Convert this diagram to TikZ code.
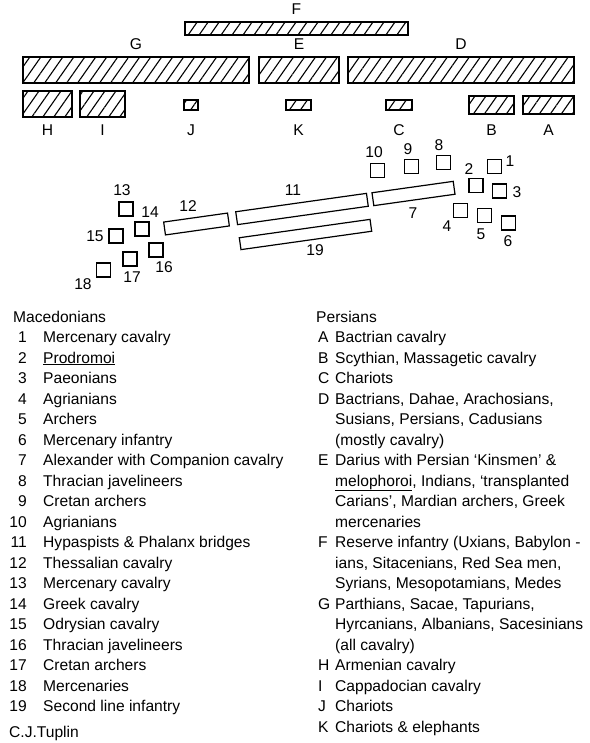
\documentclass[tikz,border=0pt]{standalone}
\usepackage{fontspec}
\setmainfont{Liberation Sans}
\usetikzlibrary{positioning, patterns.meta}
\newcommand{\legfont}{\fontsize{15.6}{20.5}\selectfont}

\begin{document}
\begin{tikzpicture}[x=1pt, y=-1pt,
  hatch/.style={draw, line width=1.3pt, inner sep=0pt,
                pattern={Lines[angle=55, distance=9pt, line width=1.1pt]}},
  unit/.style={draw, line width=1.2pt, minimum size=14pt, inner sep=0pt},
  bar/.style={draw, line width=1.2pt, rotate=8, minimum height=13pt, inner sep=0pt},
  lbl/.style={font=\legfont, inner sep=0pt},
  leg/.style={font=\legfont, inner sep=0pt, anchor=base west, align=left}
]
\useasboundingbox (0,0) rectangle (589,743);

% Persian army
\node[hatch, minimum width=223pt, minimum height=13pt] (F) at (296.5,28.5) {};
\node[hatch, minimum width=226pt, minimum height=26pt] (G) at (136,70) {};
\node[hatch, minimum width=80pt, minimum height=26pt] (E) at (299,70) {};
\node[hatch, minimum width=226pt, minimum height=26pt] (D) at (461,70) {};
\node[hatch, minimum width=49pt, minimum height=26pt] (H) at (47.5,104) {};
\node[hatch, minimum width=45pt, minimum height=26pt] (I) at (102.5,104) {};
\node[hatch, minimum width=14pt, minimum height=10pt] (J) at (191,105) {};
\node[hatch, minimum width=25pt, minimum height=10pt] (K) at (298.5,105) {};
\node[hatch, minimum width=26pt, minimum height=10pt] (C) at (399,105) {};
\node[hatch, minimum width=45pt, minimum height=18pt] (B) at (491.5,105) {};
\node[hatch, minimum width=51pt, minimum height=18pt] (A) at (548.5,105) {};

\node[lbl, above=6.5pt of F] (labF) {F};
\node[lbl, above=6.5pt of G] (labG) {G};
\node[lbl, above=6.5pt of E] (labE) {E};
\node[lbl, above=6.5pt of D] (labD) {D};
\coordinate (labrow) at (0,130);
\node[lbl] (labH) at (H |- labrow) {H};
\node[lbl] (labI) at (I |- labrow) {I};
\node[lbl] (labJ) at (J |- labrow) {J};
\node[lbl] (labK) at (K |- labrow) {K};
\node[lbl] (labC) at (C |- labrow) {C};
\node[lbl] (labB) at (B |- labrow) {B};
\node[lbl] (labA) at (A |- labrow) {A};

% Macedonian army
\node[bar, minimum width=132pt] (u11) at (302,209) {};
\node[bar, minimum width=64.5pt] (u12) at (196.5,224) {};
\node[bar, minimum width=82pt] (u7) at (413.5,193.5) {};
\node[bar, minimum width=132pt, minimum height=12pt] (u19) at (305.5,234.5) {};
\node[unit] (u1) at (494.5,166.5) {};
\node[unit] (u2) at (476,185.5) {};
\node[unit] (u3) at (499.5,191) {};
\node[unit] (u4) at (460.5,210.5) {};
\node[unit] (u5) at (484.5,215.5) {};
\node[unit] (u6) at (508.5,223) {};
\node[unit] (u8) at (443.5,162.5) {};
\node[unit] (u9) at (411.5,166.5) {};
\node[unit] (u10) at (377.5,170.5) {};
\node[unit] (u13) at (126,209) {};
\node[unit] (u14) at (142,229) {};
\node[unit] (u15) at (116,236) {};
\node[unit] (u16) at (156,250) {};
\node[unit] (u17) at (130,259) {};
\node[unit] (u18) at (103.5,270) {};

\node[lbl] (n1) at (510,161) {1};
\node[lbl] (n2) at (469,169) {2};
\node[lbl] (n3) at (517,192) {3};
\node[lbl] (n4) at (447,226) {4};
\node[lbl] (n5) at (481,234) {5};
\node[lbl] (n6) at (508,241) {6};
\node[lbl] (n7) at (413,213) {7};
\node[lbl] (n8) at (439,145) {8};
\node[lbl] (n9) at (408,149) {9};
\node[lbl] (n10) at (374,152) {10};
\node[lbl] (n11) at (293,190) {11};
\node[lbl] (n12) at (188,206) {12};
\node[lbl] (n13) at (122,190) {13};
\node[lbl] (n14) at (150,212) {14};
\node[lbl] (n15) at (95,236) {15};
\node[lbl] (n16) at (164,267) {16};
\node[lbl] (n17) at (132,277) {17};
\node[lbl] (n18) at (83,284) {18};
\node[lbl] (n19) at (315,250) {19};

% key
\node[leg] (macHead) at (13,322) {Macedonians};
\foreach \n/\t in {1/Mercenary cavalry, 2/\underline{Prodromoi}, 3/Paeonians,
    4/Agrianians, 5/Archers, 6/Mercenary infantry,
    7/Alexander with Companion cavalry, 8/Thracian javelineers,
    9/Cretan archers, 10/Agrianians, 11/Hypaspists \& Phalanx bridges,
    12/Thessalian cavalry, 13/Mercenary cavalry, 14/Greek cavalry,
    15/Odrysian cavalry, 16/Thracian javelineers, 17/Cretan archers,
    18/Mercenaries, 19/Second line infantry}{
  \node[lbl, anchor=base east] (mnum\n) at (27,322+20.5*\n) {\n};
  \node[leg] (mtxt\n) at (43,322+20.5*\n) {\t};
}
\node[leg] (credit) at (9,737) {C.J.Tuplin};

% multi-line entries sit on their last baseline
\node[leg] (perHead) at (316,322) {Persians};
\foreach \k/\r/\l/\t in {A/1/1/Bactrian cavalry, B/2/1/{Scythian, Massagetic cavalry},
    C/3/1/Chariots,
    D/4/3/{Bactrians, Dahae, Arachosians,\\Susians, Persians, Cadusians\\(mostly cavalry)},
    E/7/4/{Darius with Persian ‘Kinsmen’ \&\\\underline{melophoroi}, Indians, ‘transplanted\\Carians’, Mardian archers, Greek\\mercenaries},
    F/11/3/{Reserve infantry (Uxians, Babylon -\\ians, Sitacenians, Red Sea men,\\Syrians, Mesopotamians, Medes},
    G/14/3/{Parthians, Sacae, Tapurians,\\Hyrcanians, Albanians, Sacesinians\\(all cavalry)},
    H/17/1/Armenian cavalry, I/18/1/Cappadocian cavalry, J/19/1/Chariots,
    K/20/1/Chariots \& elephants}{
  \node[leg] (pkey\k) at (318,322+20.5*\r) {\k};
  \node[leg] (ptxt\k) at (335,322+20.5*\r+20.5*\l-20.5) {\t};
}
\end{tikzpicture}
\end{document}
